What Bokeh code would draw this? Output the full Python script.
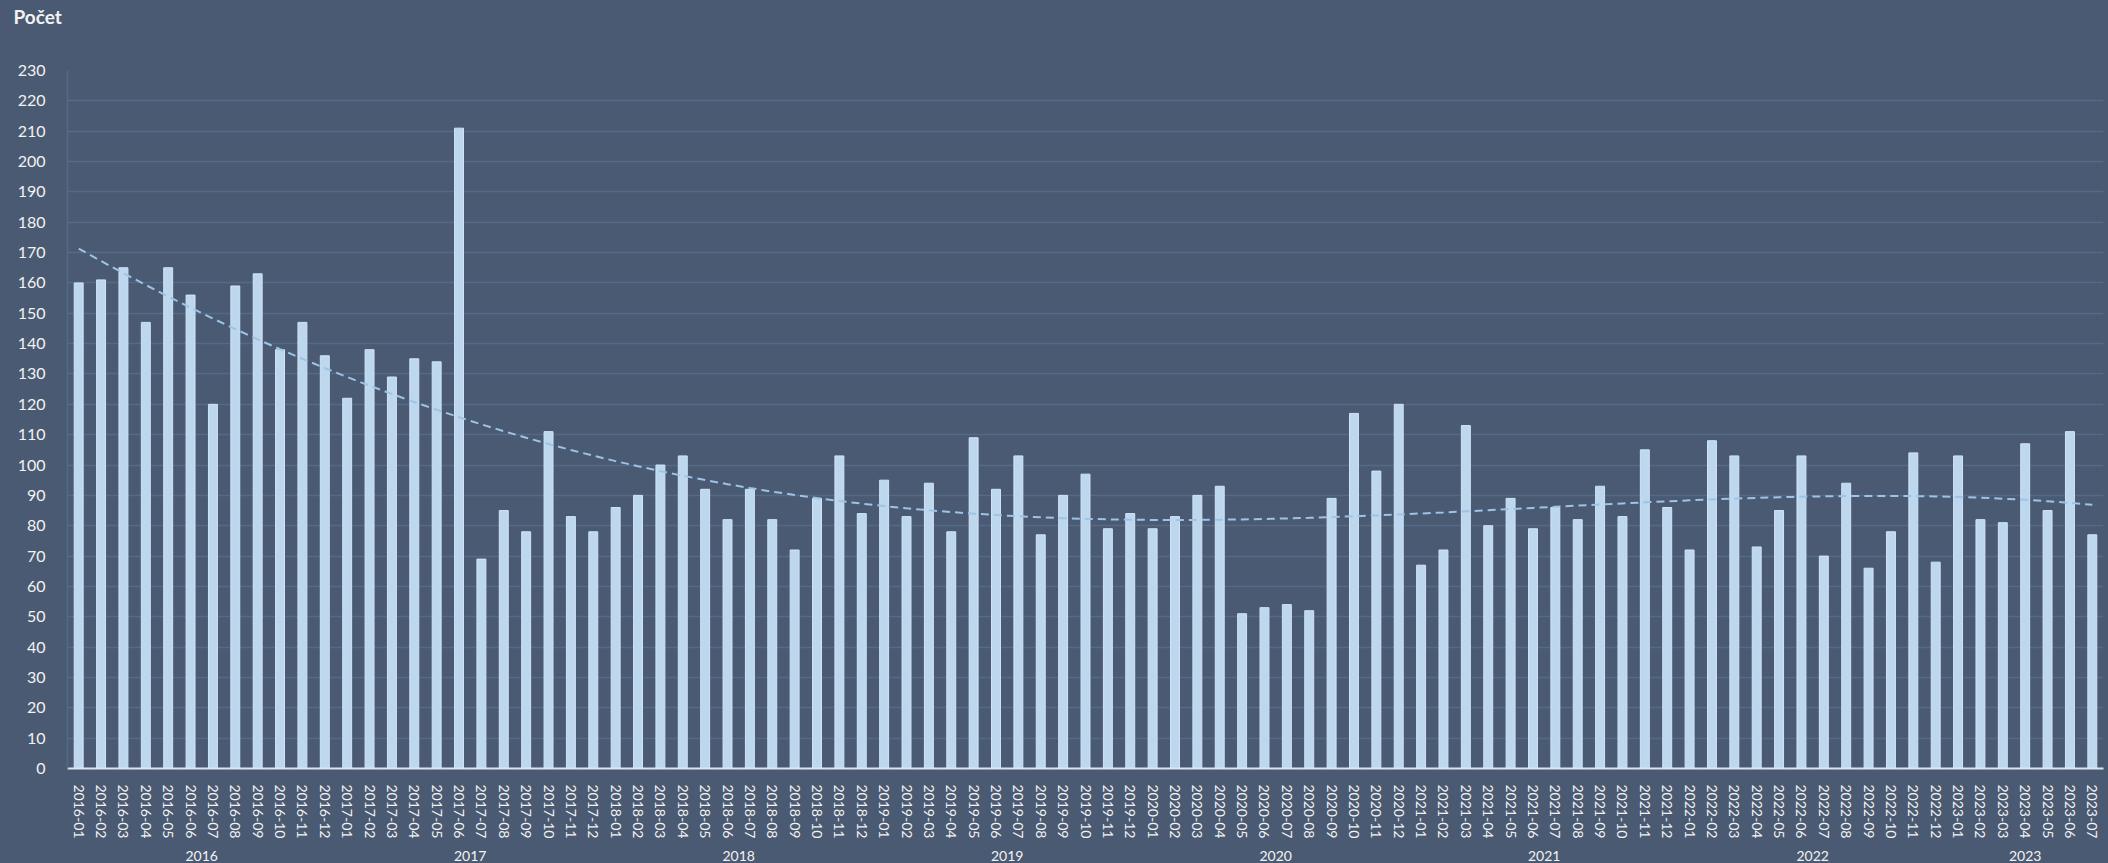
import numpy as np
from bokeh.plotting import figure
from bokeh.models import (Range1d, LinearAxis, FixedTicker, Title,
                          ColumnDataSource, GlobalInlineStyleSheet)
from bokeh.embed import file_html
from bokeh.resources import INLINE

# ---------------- data ----------------
years = ["2016", "2017", "2018", "2019", "2020", "2021", "2022", "2023"]
month_labels = (
    ["2016-01", "2016-02", "2016-03", "2016-04", "2016-05", "2016-06",
     "2016-07", "2016-08", "2016-09", "2016-10", "2016-11", "2016-12"] +
    ["2017-01", "2017-02", "2017-03", "2017-04", "2017-05", "2017-06",
     "2017-07", "2017-08", "2017-09", "2017-10", "2017-11", "2017-12"] +
    ["2018-01", "2018-02", "2018-03", "2018-04", "2018-05", "2018-06",
     "2018-07", "2018-08", "2018-09", "2018-10", "2018-11", "2018-12"] +
    ["2019-01", "2019-02", "2019-03", "2019-04", "2019-05", "2019-06",
     "2019-07", "2019-08", "2019-09", "2019-10", "2019-11", "2019-12"] +
    ["2020-01", "2020-02", "2020-03", "2020-04", "2020-05", "2020-06",
     "2020-07", "2020-08", "2020-09", "2020-10", "2020-11", "2020-12"] +
    ["2021-01", "2021-02", "2021-03", "2021-04", "2021-05", "2021-06",
     "2021-07", "2021-08", "2021-09", "2021-10", "2021-11", "2021-12"] +
    ["2022-01", "2022-02", "2022-03", "2022-04", "2022-05", "2022-06",
     "2022-07", "2022-08", "2022-09", "2022-10", "2022-11", "2022-12"] +
    ["2023-01", "2023-02", "2023-03", "2023-04", "2023-05", "2023-06",
     "2023-07"]
)
counts = [
    160, 161, 165, 147, 165, 156, 120, 159, 163, 138, 147, 136,   # 2016
    122, 138, 129, 135, 134, 211, 69, 85, 78, 111, 83, 78,        # 2017
    86, 90, 100, 103, 92, 82, 92, 82, 72, 89, 103, 84,            # 2018
    95, 83, 94, 78, 109, 92, 103, 77, 90, 97, 79, 84,             # 2019
    79, 83, 90, 93, 51, 53, 54, 52, 89, 117, 98, 120,             # 2020
    67, 72, 113, 80, 89, 79, 86, 82, 93, 83, 105, 86,             # 2021
    72, 108, 103, 73, 85, 103, 70, 94, 66, 78, 104, 68,           # 2022
    103, 82, 81, 107, 85, 111, 77,                                # 2023
]
y_ticks = list(range(0, 231, 10))
title_text = "Počet"
trend_order = 4

# ---------------- styling ----------------
BG = "#4a5a72"
GRID = "#566a86"
BAR = "#bdd7ee"
TREND = "#9dc3e6"
TXT = "#f2f2f2"
FONT = "Lato"

n = len(counts)
xpos = [i + 0.5 for i in range(n)]          # slot centres on the x scale
src = ColumnDataSource(data=dict(x=xpos, count=counts, label=month_labels))

# polynomial trendline fitted to the data
xs = np.arange(n) / n
coef = np.polyfit(xs, np.array(counts, dtype=float), trend_order)
trend = np.polyval(coef, xs)

# year grouping derived from the month labels
year_of = [m[:4] for m in month_labels]
year_first = [year_of.index(y) for y in years]
year_count = [year_of.count(y) for y in years]
year_centres = [f + c / 2 for f, c in zip(year_first, year_count)]

p = figure(
    x_range=Range1d(0, n),
    y_range=Range1d(0, 230),
    width=2108, height=863,
    output_backend="svg", toolbar_location=None,
    min_border_left=67, min_border_right=5, min_border_top=70,
    min_border_bottom=95,
    background_fill_color=BG, border_fill_color=BG,
    outline_line_color=None,
)
p.stylesheets = [GlobalInlineStyleSheet(css=f"body {{ background: {BG}; }}")]

# chart title (outermost in the top panel), with a blank spacer title below it
p.title.text = title_text
p.title.text_font = FONT
p.title.text_font_size = "19px"
p.title.text_font_style = "bold"
p.title.text_color = TXT
p.title.align = "left"
p.title.offset = -54
p.title.standoff = 4
p.add_layout(Title(text=" ", text_font=FONT, text_font_size="19px",
                   standoff=16), "above")

p.vbar(x="x", top="count", width=0.4, source=src,
       fill_color=BAR, line_color="#d2e4f4", line_width=1)
p.line(x=xpos, y=trend, line_color=TREND, line_width=2, line_dash="8 5")

# grid
p.xgrid.grid_line_color = None
p.ygrid.grid_line_color = GRID
p.ygrid.grid_line_width = 1.5

# y axis
ya = p.yaxis[0]
ya.ticker = FixedTicker(ticks=y_ticks)
ya.major_tick_line_color = None
ya.minor_tick_line_color = None
ya.axis_line_color = GRID
ya.axis_line_width = 1.5
ya.major_label_text_font = FONT
ya.major_label_text_font_size = "16px"
ya.major_label_text_color = TXT
ya.major_label_standoff = 16

# x axis: month labels
xa = p.xaxis[0]
xa.ticker = FixedTicker(ticks=xpos)
xa.major_label_overrides = {x: lab for x, lab in zip(xpos, month_labels)}
xa.major_label_orientation = "vertical"
xa.major_tick_line_color = None
xa.minor_tick_line_color = None
xa.axis_line_color = "#dfe5ee"
xa.axis_line_width = 2
xa.major_label_text_font = FONT
xa.major_label_text_font_size = "14px"
xa.major_label_text_color = TXT
xa.major_label_standoff = 10

# second x axis: year labels
xa2 = LinearAxis(ticker=FixedTicker(ticks=year_centres),
                 major_label_overrides={c: y for c, y in zip(year_centres, years)},
                 major_tick_line_color=None, minor_tick_line_color=None,
                 axis_line_color=None,
                 major_label_text_font=FONT, major_label_text_font_size="14px",
                 major_label_text_color=TXT, major_label_standoff=3)
p.add_layout(xa2, "below")

# month / year dividers drawn as tick marks of fixed-location axes
bounds = list(range(n + 1))
month_div = LinearAxis(fixed_location=0,
                       ticker=FixedTicker(ticks=bounds),
                       major_tick_in=0, major_tick_out=66,
                       major_tick_line_color="#b9c4d3", major_tick_line_width=1.5,
                       minor_tick_line_color=None, axis_line_color=None,
                       major_label_text_font_size="0px",
                       major_label_overrides={b: "" for b in bounds})
p.add_layout(month_div, "below")

year_div = LinearAxis(fixed_location=0,
                      ticker=FixedTicker(ticks=year_first),
                      major_tick_in=0, major_tick_out=100,
                      major_tick_line_color="#dfe5ee", major_tick_line_width=1.5,
                      minor_tick_line_color=None, axis_line_color=None,
                      major_label_text_font_size="0px",
                      major_label_overrides={b: "" for b in year_first})
p.add_layout(year_div, "below")

open("out.html", "w").write(file_html(p, INLINE))
